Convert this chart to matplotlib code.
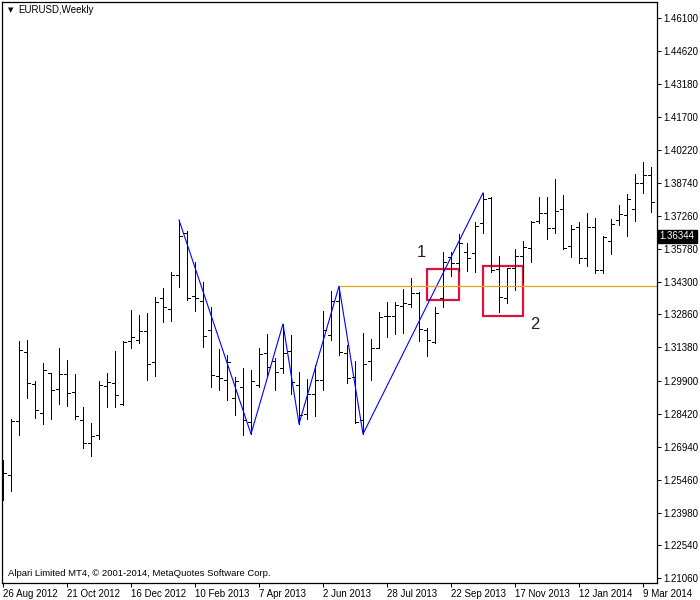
import matplotlib
matplotlib.use("Agg")
import matplotlib.pyplot as plt
import matplotlib.transforms as mtransforms

plt.rcParams['font.family'] = ['Liberation Sans', 'DejaVu Sans']

# weekly EURUSD bars, 26 Aug 2012 .. 16 Mar 2014
opens = [1.2510, 1.2568, 1.2809, 1.3118, 1.2975, 1.2845, 1.3024, 1.2952, 1.3019, 1.2939,
         1.2814, 1.2711, 1.2747, 1.2966, 1.2979, 1.2885, 1.3167, 1.3172, 1.3212, 1.3073,
         1.3359, 1.3310, 1.3462, 1.3650, 1.3368, 1.3346, 1.3216, 1.3011, 1.2993, 1.2912,
         1.2961, 1.2805, 1.2970, 1.3113, 1.3078, 1.3046, 1.3122, 1.2970, 1.2841, 1.2930,
         1.2993, 1.3194, 1.3346, 1.3113, 1.3006, 1.2814, 1.3078, 1.3136, 1.3279, 1.3279,
         1.3324, 1.3332, 1.3382, 1.3216, 1.3163, 1.3359, 1.3543, 1.3516, 1.3565, 1.3561,
         1.3695, 1.3807, 1.3489, 1.3359, 1.3494, 1.3547, 1.3583, 1.3704, 1.3739, 1.3672,
         1.3757, 1.3592, 1.3677, 1.3538, 1.3677, 1.3485, 1.3614, 1.3708, 1.3730, 1.3757,
         1.3873, 1.3909]
highs = [1.2635, 1.2816, 1.3167, 1.3172, 1.2988, 1.3069, 1.3026, 1.3136, 1.3082, 1.3019,
         1.2872, 1.2800, 1.2988, 1.3024, 1.3122, 1.3167, 1.3306, 1.3283, 1.3292, 1.3364,
         1.3404, 1.3476, 1.3708, 1.3659, 1.3520, 1.3431, 1.3319, 1.3131, 1.3104, 1.3006,
         1.3046, 1.3037, 1.3136, 1.3198, 1.3091, 1.3243, 1.3194, 1.3028, 1.2997, 1.3060,
         1.3301, 1.3391, 1.3412, 1.3149, 1.3078, 1.3203, 1.3176, 1.3297, 1.3341, 1.3341,
         1.3400, 1.3449, 1.3386, 1.3225, 1.3319, 1.3565, 1.3565, 1.3646, 1.3605, 1.3699,
         1.3829, 1.3811, 1.3547, 1.3494, 1.3578, 1.3614, 1.3704, 1.3811, 1.3811, 1.3891,
         1.3820, 1.3686, 1.3699, 1.3739, 1.3717, 1.3637, 1.3713, 1.3775, 1.3824, 1.3914,
         1.3967, 1.3945]
lows = [1.2456, 1.2496, 1.2747, 1.2912, 1.2823, 1.2796, 1.2818, 1.2885, 1.2876, 1.2818,
        1.2689, 1.2653, 1.2729, 1.2872, 1.2872, 1.2883, 1.3136, 1.3158, 1.2993, 1.3011,
        1.3252, 1.3256, 1.3409, 1.3350, 1.3301, 1.3140, 1.2961, 1.2948, 1.2903, 1.2836,
        1.2747, 1.2751, 1.2961, 1.3006, 1.2948, 1.3024, 1.2930, 1.2796, 1.2818, 1.2832,
        1.2948, 1.3172, 1.3104, 1.2979, 1.2800, 1.2751, 1.2993, 1.3134, 1.3185, 1.3198,
        1.3203, 1.3319, 1.3167, 1.3100, 1.3158, 1.3319, 1.3458, 1.3480, 1.3480, 1.3476,
        1.3650, 1.3476, 1.3297, 1.3337, 1.3395, 1.3431, 1.3520, 1.3695, 1.3623, 1.3650,
        1.3578, 1.3543, 1.3516, 1.3503, 1.3471, 1.3471, 1.3556, 1.3686, 1.3637, 1.3704,
        1.3829, 1.3744]
closes = [1.2577, 1.2809, 1.3127, 1.2979, 1.2859, 1.3037, 1.2948, 1.3019, 1.2935, 1.2832,
          1.2711, 1.2742, 1.2970, 1.2984, 1.2926, 1.3163, 1.3185, 1.3212, 1.3064, 1.3342,
          1.3319, 1.3462, 1.3637, 1.3359, 1.3359, 1.3189, 1.3015, 1.3002, 1.3073, 1.2988,
          1.2814, 1.2988, 1.3109, 1.3051, 1.3028, 1.3113, 1.2984, 1.2836, 1.2930, 1.2993,
          1.3216, 1.3346, 1.3118, 1.3002, 1.2805, 1.3064, 1.3136, 1.3274, 1.3281, 1.3328,
          1.3337, 1.3382, 1.3221, 1.3172, 1.3292, 1.3520, 1.3516, 1.3605, 1.3538, 1.3681,
          1.3802, 1.3485, 1.3364, 1.3492, 1.3547, 1.3588, 1.3699, 1.3739, 1.3672, 1.3748,
          1.3583, 1.3668, 1.3538, 1.3677, 1.3485, 1.3632, 1.3690, 1.3735, 1.3802, 1.3873,
          1.3909, 1.3789]

date_labels = ["26 Aug 2012", "21 Oct 2012", "16 Dec 2012", "10 Feb 2013", "7 Apr 2013",
               "2 Jun 2013", "28 Jul 2013", "22 Sep 2013", "17 Nov 2013", "12 Jan 2014",
               "9 Mar 2014"]
price_ticks = [1.46100, 1.44620, 1.43180, 1.41700, 1.40220, 1.38740, 1.37260, 1.35780,
               1.34300, 1.32860, 1.31380, 1.29900, 1.28420, 1.26940, 1.25460, 1.23980,
               1.22540, 1.21060]
last_price = 1.36344

# zigzag pivots: (bar, 'H' or 'L')
pivots = [(22, 'H'), (31, 'L'), (35, 'H'), (37, 'L'), (42, 'H'), (45, 'L'), (60, 'H')]
level_bar = 42

# marked boxes: (first bar, last bar, top, bottom)
boxes = [(53, 57, 1.3489, 1.3350), (60, 65, 1.3502, 1.3279)]
box_labels = [("1", 52.25, 1.3561), ("2", 66.5, 1.3243)]

n = len(opens)
idx = list(range(n))

fig = plt.figure(figsize=(7, 6), dpi=100)
ax = fig.add_axes([2 / 700, 17.5 / 600, 655 / 700, 580.5 / 600])

lw = 0.72  # one pixel
tw = 0.36
ax.vlines(idx, lows, highs, color='black', linewidth=lw, antialiased=False)
ax.hlines(opens, [i - tw for i in idx], idx, color='black', linewidth=lw, antialiased=False)
ax.hlines(closes, idx, [i + tw for i in idx], color='black', linewidth=lw, antialiased=False)

# zigzag
zx = [p[0] for p in pivots]
zy = [highs[b] if t == 'H' else lows[b] for b, t in pivots]
ax.plot(zx, zy, color='#0000ff', linewidth=0.8)

# horizontal level
ax.hlines(highs[level_bar], level_bar, n + 2, color='#e0a020', linewidth=0.9)

for x0, x1, top, bot in boxes:
    ax.add_patch(plt.Rectangle((x0, bot), x1 - x0, top - bot, fill=False,
                               edgecolor='#dc143c', linewidth=1.6))
for txt, bx, by in box_labels:
    ax.text(bx, by, txt, fontsize=12, color='#222222', ha='center', va='center')

ax.set_xlim(-0.125, 81.75)
ax.set_ylim(1.2087, 1.4683)

ax.yaxis.tick_right()
ax.set_yticks(price_ticks)
ax.set_yticklabels(["%.5f" % v for v in price_ticks])
ax.set_xticks(list(range(0, 81, 8)))
ax.set_xticklabels(date_labels, ha='left')
ax.tick_params(axis='both', direction='out', length=3, width=lw, labelsize=7, pad=1.5)
ax.tick_params(axis='x', pad=2)
for sp in ax.spines.values():
    sp.set_linewidth(0.9)

trans = mtransforms.blended_transform_factory(ax.transAxes, ax.transData)
ax.text(1.004, last_price, "%.5f" % last_price, transform=trans, color='white', fontsize=7,
        va='center', ha='left',
        bbox=dict(boxstyle='square,pad=0.2', facecolor='black', edgecolor='black'))

fig.text(8 / 700, 1 - 10 / 600, "\u25bc", fontsize=5, family=['DejaVu Sans'],
         ha='left', va='center')
fig.text(18 / 700, 1 - 10 / 600, "EURUSD,Weekly", fontsize=7, ha='left', va='center')
fig.text(8 / 700, 1 - 574 / 600, "Alpari Limited MT4, \u00a9 2001-2014, MetaQuotes Software Corp.",
         fontsize=6.8, ha='left', va='center')

fig.savefig("out.png", dpi=100, facecolor='white')
